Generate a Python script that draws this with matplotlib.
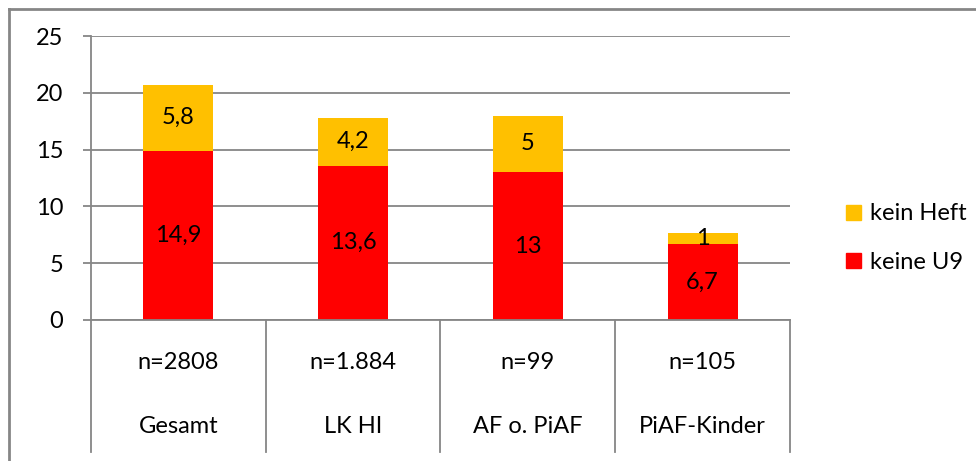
import matplotlib
matplotlib.use("Agg")
import matplotlib.pyplot as plt
from matplotlib.patches import Patch
from matplotlib.lines import Line2D

plt.rcParams['font.family'] = ['Lato', 'DejaVu Sans']

categories = ["Gesamt", "LK HI", "AF o. PiAF", "PiAF-Kinder"]
sample_sizes = ["n=2808", "n=1.884", "n=99", "n=105"]
keine_u9 = [14.9, 13.6, 13, 6.7]
kein_heft = [5.8, 4.2, 5, 1]
u9_labels = ["14,9", "13,6", "13", "6,7"]
heft_labels = ["5,8", "4,2", "5", "1"]
yticks = [0, 5, 10, 15, 20, 25]

GRAY = "#868686"
RED = "#FF0000"
GOLD = "#FFC000"
FS = 17

W, H = 976, 461
fig = plt.figure(figsize=(W / 100, H / 100), dpi=100)
ax = fig.add_axes([91 / W, (H - 320) / H, (790 - 91) / W, (320 - 36) / H])

x = list(range(len(categories)))
ax.bar(x, keine_u9, width=0.4, color=RED, zorder=3)
ax.bar(x, kein_heft, width=0.4, bottom=keine_u9, color=GOLD, zorder=3)

for xi, lo, hi, l1, l2 in zip(x, keine_u9, kein_heft, u9_labels, heft_labels):
    ax.text(xi, lo / 2, l1, ha="center", va="center", fontsize=FS, zorder=4)
    ax.text(xi, lo + hi / 2, l2, ha="center", va="center", fontsize=FS, zorder=4)

ax.set_xlim(-0.5, len(categories) - 0.5)
ax.set_ylim(0, 25)
ax.set_yticks(yticks)
ax.set_yticklabels([str(v) for v in yticks], fontsize=FS)
ax.tick_params(axis="y", length=6, width=1.3, color=GRAY, pad=14)
ax.set_xticks([])
ax.yaxis.grid(True, color=GRAY, linewidth=1.3, zorder=0)
for s in ["top", "right", "bottom"]:
    ax.spines[s].set_visible(False)
ax.spines["left"].set_color(GRAY)
ax.spines["left"].set_linewidth(1.3)

# category table below the plot
table_bottom = -11.6
for b in [xi - 0.5 for xi in x] + [len(categories) - 0.5]:
    ax.add_line(Line2D([b, b], [0, table_bottom], color=GRAY, lw=1.3, clip_on=False))
ax.add_line(Line2D([-0.5, len(categories) - 0.5], [0, 0], color=GRAY, lw=1.3,
                   clip_on=False, zorder=5))
for xi, n, c in zip(x, sample_sizes, categories):
    ax.text(xi, -3.7, n, ha="center", va="center", fontsize=FS)
    ax.text(xi, -9.4, c, ha="center", va="center", fontsize=FS)

handles = [Patch(color=GOLD), Patch(color=RED)]
fig.legend(handles, ["kein Heft", "keine U9"], loc="center left",
           bbox_to_anchor=(837 / W, 1 - 238 / H), frameon=False, fontsize=FS,
           handlelength=0.6, handleheight=0.6, handletextpad=0.4,
           labelspacing=1.15, borderaxespad=0)

# outer frame
fig.add_artist(Line2D([9 / W, 9 / W], [0, 1 - 9 / H], color=GRAY, lw=2,
                      transform=fig.transFigure))
fig.add_artist(Line2D([9 / W, 1], [1 - 9 / H, 1 - 9 / H], color=GRAY, lw=2,
                      transform=fig.transFigure))

fig.savefig("out.png", dpi=100)
